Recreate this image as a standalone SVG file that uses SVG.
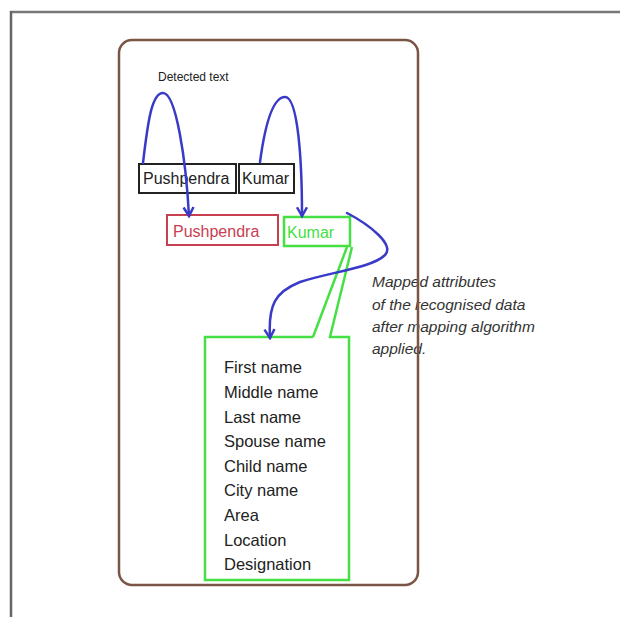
<svg xmlns="http://www.w3.org/2000/svg" width="620" height="617" viewBox="0 0 620 617">
<defs>
<style>
.t{font-family:"Liberation Sans",Arial,sans-serif;fill:#222;}
.blue{fill:none;stroke:#3a3ac8;stroke-width:2.5;stroke-linecap:round;}
.green{fill:none;stroke:#44e044;stroke-width:2.5;}
</style>
<marker id="ah" viewBox="0 0 10 10" refX="8" refY="5" markerWidth="5" markerHeight="5" orient="auto" markerUnits="strokeWidth">
<path d="M1,1 L8,5 L1,9" fill="none" stroke="#3a3ac8" stroke-width="2"/>
</marker>
</defs>
<rect width="620" height="617" fill="#fff"/>
<g id="frame">
<line x1="10" y1="12" x2="620" y2="12" stroke="#777" stroke-width="2.5"/>
<line x1="11" y1="11" x2="11" y2="617" stroke="#666" stroke-width="2.5"/>
</g>
<g id="label-detected"><text class="t" x="158" y="81" font-size="12">Detected text</text></g>
<g id="node-pushpendra-detected">
<rect x="139" y="164" width="97" height="29" fill="none" stroke="#222" stroke-width="2"/>
<text class="t" x="143" y="184" font-size="16">Pushpendra</text>
</g>
<g id="node-kumar-detected">
<rect x="239" y="164" width="55" height="29" fill="none" stroke="#222" stroke-width="2"/>
<text class="t" x="242" y="184" font-size="16">Kumar</text>
</g>
<g id="node-pushpendra-mapped">
<rect x="167" y="215" width="111" height="30" fill="none" stroke="#c84050" stroke-width="2"/>
<text class="t" x="173" y="237" font-size="16" style="fill:#c84050">Pushpendra</text>
</g>
<g id="node-attributes">
<path class="green" d="M313,337 L205,337 L205,580 L349,580 L349,337 L330,337 L352,247 M313,337 L347,247"/>
<text class="t" font-size="16.5">
<tspan x="224" y="373">First name</tspan>
<tspan x="224" y="398">Middle name</tspan>
<tspan x="224" y="423">Last name</tspan>
<tspan x="224" y="447">Spouse name</tspan>
<tspan x="224" y="472">Child name</tspan>
<tspan x="224" y="496">City name</tspan>
<tspan x="224" y="521">Area</tspan>
<tspan x="224" y="546">Location</tspan>
<tspan x="224" y="570">Designation</tspan>
</text>
</g>
<g id="node-kumar-mapped">
<rect x="284" y="217" width="66" height="29" fill="none" stroke="#44e044" stroke-width="2.5"/>
<text class="t" x="287" y="238" font-size="16" style="fill:#44e044">Kumar</text>
</g>
<g id="label-mapped">
<text class="t" font-size="15.5" font-style="italic" style="fill:#333">
<tspan x="372" y="287">Mapped attributes</tspan>
<tspan x="372" y="310">of the recognised data</tspan>
<tspan x="372" y="332">after mapping algorithm</tspan>
<tspan x="372" y="354">applied.</tspan>
</text>
</g>
<g id="container">
<rect x="119" y="40" width="299" height="545" rx="13" ry="13" fill="none" stroke="#7a5545" stroke-width="2.5"/>
</g>
<g id="connectors">
<path class="blue" marker-end="url(#ah)" d="M143,163 C148,120 152,93 163,93 C176,93 186,160 189,216"/>
<path class="blue" marker-end="url(#ah)" d="M260,162 C265,125 273,97 285,97 C298,97 302,160 302,216"/>
<path class="blue" marker-end="url(#ah)" d="M347,213 C370,225 395,245 385,255 C372,268 330,272 300,282 C275,292 268,305 270,338"/>
</g>
</svg>
